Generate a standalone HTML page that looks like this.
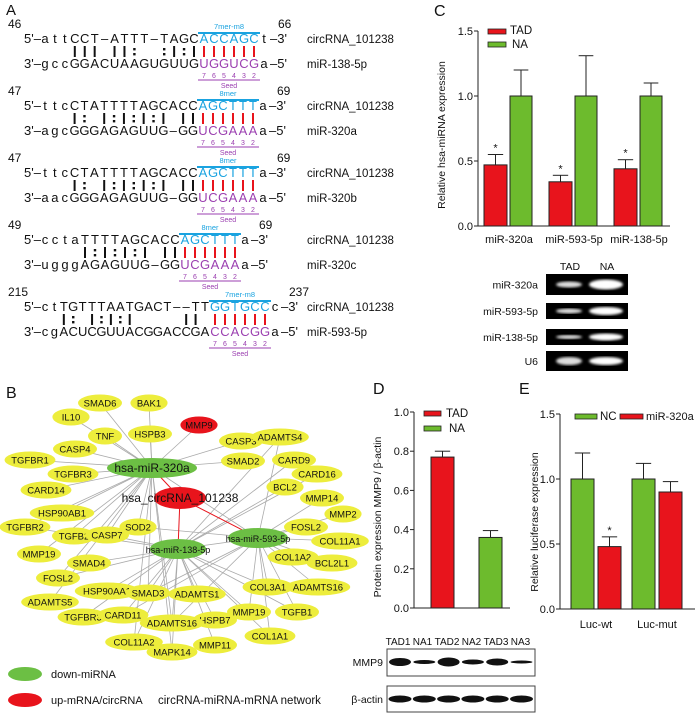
<!DOCTYPE html>
<html><head><meta charset="utf-8"><style>
html,body{margin:0;padding:0;background:#fff}
svg{display:block;font-family:"Liberation Sans",Arial,sans-serif}
</style></head><body>
<svg id="root" width="700" height="717" viewBox="0 0 700 717"></svg>
<script>
// ---------- chart data ----------
const cCats = ['miR-320a','miR-593-5p','miR-138-5p'];
const cTad = [0.47,0.34,0.44];
const cTadErr = [0.08,0.05,0.07];
const cNa = [1.0,1.0,1.0];
const cNaErr = [0.2,0.31,0.1];
const cTicks = [0,0.5,1.0,1.5];
const cTickLabels = ['0.0','0.5','1.0','1.5'];
const dCats = ['TAD','NA'];
const dVals = [0.77,0.36];
const dErr = [0.03,0.035];
const dTicks = [0,0.2,0.4,0.6,0.8,1.0];
const dTickLabels = ['0.0','0.2','0.4','0.6','0.8','1.0'];
const eCats = ['Luc-wt','Luc-mut'];
const eNc = [1.0,1.0];
const eNcErr = [0.2,0.12];
const eMir = [0.48,0.9];
const eMirErr = [0.075,0.08];
const eTicks = [0,0.5,1.0,1.5];
const eTickLabels = ['0.0','0.5','1.0','1.5'];

const NS='http://www.w3.org/2000/svg';
const root=document.getElementById('root');
function mk(tag,attrs,name,parent){
  const el=document.createElementNS(NS,tag);
  for(const k in attrs) el.setAttribute(k,attrs[k]);
  
  
  (parent||root).appendChild(el);
  return el;
}
function txt(x,y,s,name,opt){
  opt=opt||{};
  const t=mk('text',{x:x,y:y,'font-size':opt.size||11,fill:opt.fill||'#111','text-anchor':opt.anchor||'start','font-weight':opt.weight||'normal'},name,opt.parent);
  if(opt.rot) t.setAttribute('transform','rotate(-90 '+x+' '+y+')');
  t.textContent=s;return t;
}
const RED='#e8141c', GREEN='#6dbb2d';

// ---------- panel letters ----------
txt(6,15,'A','panel-label-a',{size:15});
txt(6,398,'B','panel-label-b',{size:16});
txt(434,16,'C','panel-label-c',{size:16});
txt(373,394,'D','panel-label-d',{size:16});
txt(519,394,'E','panel-label-e',{size:16});

// ---------- panel A ----------
const aBlocks=[
 {n1:'46',n2:'66',top:'attCCT-ATTT-TAGC',seedT:'ACCAGC',endT:'t',bot:'gccGGACUAAGUGUUG',seedB:'UGGUCG',endB:'a',marks:'   ||| ||:  :|:|',site:'7mer-m8',mir:'miR-138-5p',seedX:204},
 {n1:'47',n2:'69',top:'ttcCTATTTTAGCACC',seedT:'AGCTTT',endT:'a',bot:'agcGGGAGAGUUG-GG',seedB:'UCGAAA',endB:'a',marks:'   |: |:|:|:| ||',site:'8mer',mir:'miR-320a',seedX:203},
 {n1:'47',n2:'69',top:'ttcCTATTTTAGCACC',seedT:'AGCTTT',endT:'a',bot:'aacGGGAGAGUUG-GG',seedB:'UCGAAA',endB:'a',marks:'   |: |:|:|:| ||',site:'8mer',mir:'miR-320b',seedX:203},
 {n1:'49',n2:'69',top:'cctaTTTTAGCACC',seedT:'AGCTTT',endT:'a',bot:'ugggAGAGUUG-GG',seedB:'UCGAAA',endB:'a',marks:'    |:|:|:| ||',site:'8mer',mir:'miR-320c',seedX:185},
 {n1:'215',n2:'237',top:'ctTGTTTAATGACT--TT',seedT:'GGTGCC',endT:'c',bot:'cgACUCGUUACGGACCGA',seedB:'CCACGG',endB:'a',marks:'  |: |:|:|     ||',site:'7mer-m8',mir:'miR-593-5p',seedX:215}
];
aBlocks.forEach((b,i)=>{
  const y0=43+i*67;
  const g=mk('g',{},'alignment-'+b.mir);
  txt(8,y0-15,b.n1,'start-position',{size:12,parent:g});
  txt(24,y0,"5'–",'five-prime-label',{size:13,parent:g});
  txt(24,y0+25,"3'–",'three-prime-label',{size:13,parent:g});
  const n=b.top.length, sx=b.seedX;
  const pitch=(sx-10-45)/(n-1);
  for(let k=0;k<n;k++){
    const x=45+k*pitch;
    txt(x,y0,b.top[k]==='-'?'–':b.top[k],'circ-base',{size:13,anchor:'middle',parent:g});
    txt(x,y0+25,b.bot[k]==='-'?'–':b.bot[k],'mirna-base',{size:13,anchor:'middle',parent:g});
    const m=b.marks[k];
    if(m==='|') mk('line',{x1:x,x2:x,y1:y0+3,y2:y0+14,stroke:'#111','stroke-width':2},'pair-bond',g);
    else if(m===':'){mk('rect',{x:x-1.2,y:y0+5,width:2.4,height:2.4,fill:'#111'},'wobble-dot',g);mk('rect',{x:x-1.2,y:y0+10,width:2.4,height:2.4,fill:'#111'},'wobble-dot',g);}
  }
  for(let k=0;k<6;k++){
    const x=sx+k*10;
    txt(x,y0,b.seedT[k],'site-base',{size:13,anchor:'middle',fill:'#1aa3e0',parent:g});
    txt(x,y0+25,b.seedB[k],'seed-base',{size:13,anchor:'middle',fill:'#9b3fb0',parent:g});
    mk('line',{x1:x,x2:x,y1:y0+3,y2:y0+14,stroke:RED,'stroke-width':2},'seed-bond',g);
    txt(x,y0+35,String(7-k),'seed-index',{size:7,anchor:'middle',fill:'#9b3fb0',parent:g});
  }
  mk('line',{x1:sx-6,x2:sx+56,y1:y0-10,y2:y0-10,stroke:'#1aa3e0','stroke-width':2},'site-bar',g);
  txt(sx+25,y0-14,b.site,'site-type',{size:7.5,anchor:'middle',fill:'#1aa3e0',parent:g});
  mk('line',{x1:sx-6,x2:sx+56,y1:y0+37,y2:y0+37,stroke:'#9b3fb0','stroke-width':1},'seed-bar',g);
  txt(sx+25,y0+45,'Seed','seed-label',{size:7,anchor:'middle',fill:'#9b3fb0',parent:g});
  txt(sx+60,y0,b.endT,'circ-end',{size:13,anchor:'middle',parent:g});
  txt(sx+66,y0,"–3'",'three-prime-end',{size:13,parent:g});
  txt(sx+60,y0+25,b.endB,'mirna-end',{size:13,anchor:'middle',parent:g});
  txt(sx+66,y0+25,"–5'",'five-prime-end',{size:13,parent:g});
  txt(sx+74,y0-15,b.n2,'end-position',{size:12,parent:g});
  txt(307,y0,'circRNA_101238','circrna-name',{size:11.5,parent:g});
  txt(307,y0+25,b.mir,'mirna-name',{size:11.5,parent:g});
});

// ---------- panel B network ----------
const hubs={h320:[152,468,45,10,'hsa-miR-320a',12],h138:[178,549,28,10,'hsa-miR-138-5p',9],h593:[258,538,30,10,'hsa-miR-593-5p',9]};
const circ=[180,498,26,11];
const nodes=[
['SMAD6',100,403,'h320'],['BAK1',149,403,'h320'],['IL10',71,417,'h320'],['MMP9',199,425,'h320',1],['TNF',105,436,'h320'],
['HSPB3',150,434,'h320'],['CASP3',241,441,'h320'],['ADAMTS4',280,437,'h138'],['CASP4',75,449,'h320'],['TGFBR1',30,460,'h320'],
['SMAD2',243,461,'h320'],['CARD9',294,460,'h138'],['TGFBR3',73,474,'h320'],['CARD16',317,474,'h138'],['CARD14',46,490,'h320'],
['BCL2',285,487,'h138'],['MMP14',322,498,'h593'],['HSP90AB1',62,513,'h320'],['TGFBR2',25,527,'h320'],['MMP2',343,514,'h593'],
['TGFB2',74,536,'h320'],['CASP7',107,535,'h320'],['SOD2',138,527,'h593'],['FOSL2',306,527,'h593'],['COL11A1',340,541,'h593'],
['MMP19',39,554,'h320'],['COL1A2',293,557,'h593'],['BCL2L1',332,563,'h593'],['SMAD4',89,563,'h138'],['FOSL2',58,578,'h320'],
['ADAMTS16',318,587,'h593'],['COL3A1',268,587,'h138'],['HSP90AA1',107,591,'h138'],['SMAD3',148,593,'h138'],['ADAMTS1',197,594,'h138'],
['ADAMTS5',50,602,'h320'],['MMP19',249,612,'h138'],['TGFB1',297,612,'h593'],['TGFBR3',83,617,'h138'],['CARD11',123,615,'h138'],
['HSPB7',215,620,'h138'],['ADAMTS16',172,623,'h138'],['COL1A1',270,636,'h593'],['COL11A2',134,642,'h138'],['MMP11',215,645,'h138'],['MAPK14',172,652,'h138']
];
const net=mk('g',{},'network-graph');
nodes.forEach(nd=>{
  const h=hubs[nd[3]];
  mk('line',{x1:nd[1],y1:nd[2],x2:h[0],y2:h[1],stroke:'#aaa','stroke-width':0.8},'network-edge',net);
  if(!nd[4] && (nd[2]>500||nd[1]>230)){
    const h2=nd[3]==='h138'?hubs.h593:hubs.h138;
    if((nd[1]+nd[2])%3===0) mk('line',{x1:nd[1],y1:nd[2],x2:h2[0],y2:h2[1],stroke:'#aaa','stroke-width':0.8},'network-edge',net);
  }
  if(nd[3]!=='h320' && nd[1]<200 && (nd[1]%2===0)) mk('line',{x1:nd[1],y1:nd[2],x2:hubs.h320[0],y2:hubs.h320[1],stroke:'#aaa','stroke-width':0.8},'network-edge',net);
});
['h320','h138','h593'].forEach(k=>{
  mk('line',{x1:circ[0],y1:circ[1],x2:hubs[k][0],y2:hubs[k][1],stroke:'#e8141c','stroke-width':1},'circ-edge',net);
});
mk('line',{x1:hubs.h320[0],y1:hubs.h320[1],x2:hubs.h593[0],y2:hubs.h593[1],stroke:'#aaa','stroke-width':0.8},'network-edge',net);
mk('line',{x1:hubs.h138[0],y1:hubs.h138[1],x2:hubs.h593[0],y2:hubs.h593[1],stroke:'#aaa','stroke-width':0.8},'network-edge',net);
nodes.forEach(nd=>{
  const w=Math.max(17,nd[0].length*3.4+5);
  mk('ellipse',{cx:nd[1],cy:nd[2],rx:w,ry:8.5,fill:nd[4]?RED:'#eded3c'},'gene-node-'+nd[0].toLowerCase(),net);
  txt(nd[1],nd[2]+3.5,nd[0],'gene-label',{size:9.5,anchor:'middle',parent:net});
});
mk('ellipse',{cx:circ[0],cy:circ[1],rx:circ[2],ry:circ[3],fill:RED},'circrna-node',net);
txt(circ[0],circ[1]+4,'hsa_circRNA_101238','circrna-label',{size:12,anchor:'middle',parent:net});
Object.keys(hubs).forEach(k=>{
  const h=hubs[k];
  mk('ellipse',{cx:h[0],cy:h[1],rx:h[2],ry:h[3],fill:'#6cbf44'},'mirna-node',net);
  txt(h[0],h[1]+4,h[4],'mirna-label',{size:h[5],anchor:'middle',parent:net});
});
mk('ellipse',{cx:25,cy:674,rx:17,ry:7,fill:'#6cbf44'},'legend-down-mirna-swatch');
txt(51,678,'down-miRNA','legend-down-mirna',{size:11});
mk('ellipse',{cx:25,cy:700,rx:17,ry:7,fill:RED},'legend-up-mrna-swatch');
txt(51,704,'up-mRNA/circRNA','legend-up-mrna',{size:11});
txt(158,704,'circRNA-miRNA-mRNA network','network-title',{size:11.5});

// ---------- generic bar helpers ----------
function bar(x,w,v,err,y,color,name,star){
  const g=mk('g',{},name);
  const y0=y(0),y1=y(v),ye=y(v+err),cx=x+w/2;
  mk('line',{x1:cx,x2:cx,y1:y1,y2:ye,stroke:'#222','stroke-width':1},'error-bar',g);
  mk('line',{x1:cx-w/3,x2:cx+w/3,y1:ye,y2:ye,stroke:'#222','stroke-width':1},'error-cap',g);
  mk('rect',{x:x,y:y1,width:w,height:y0-y1,fill:color,stroke:'#222','stroke-width':1},'bar-rect',g);
  if(star) txt(cx,ye-3,'*','significance-star',{size:11,anchor:'middle',parent:g});
}
function axis(x0,x1,y,ticks,labels,name){
  const g=mk('g',{},name);
  mk('line',{x1:x0,x2:x0,y1:y(ticks[ticks.length-1]),y2:y(0),stroke:'#222','stroke-width':1},'y-axis-line',g);
  mk('line',{x1:x0,x2:x1,y1:y(0),y2:y(0),stroke:'#222','stroke-width':1},'x-axis-line',g);
  ticks.forEach((t,i)=>{
    mk('line',{x1:x0-4,x2:x0,y1:y(t),y2:y(t),stroke:'#222','stroke-width':1},'y-tick',g);
    txt(x0-5,y(t)+4,labels[i],'y-tick-label',{size:11,anchor:'end',parent:g});
  });
}

// ---------- panel C ----------
const yC=v=>226-v*130;
axis(478,670,yC,cTicks,cTickLabels,'chart-c-axes');
txt(445,135,'Relative hsa-miRNA  expression','chart-c-y-title',{size:10.5,anchor:'middle',rot:1});
cCats.forEach((c,i)=>{
  const s=478+i*65;
  bar(s+6,23,cTad[i],cTadErr[i],yC,RED,'bar-tad-'+c,true);
  bar(s+32,22,cNa[i],cNaErr[i],yC,GREEN,'bar-na-'+c,false);
  txt(s+31,243,c,'x-tick-label',{size:11,anchor:'middle'});
});
mk('rect',{x:488,y:29,width:18,height:5,fill:RED,stroke:'#222','stroke-width':0.8},'legend-tad-swatch');
txt(510,34,'TAD','legend-tad',{size:11.5});
mk('rect',{x:488,y:42,width:18,height:5,fill:GREEN,stroke:'#222','stroke-width':0.8},'legend-na-swatch');
txt(512,48,'NA','legend-na',{size:11.5});
txt(570,270,'TAD','gel-lane-tad',{size:10.5,anchor:'middle'});
txt(607,270,'NA','gel-lane-na',{size:10.5,anchor:'middle'});
const defs=mk('defs',{},'defs');
const flt=mk('filter',{id:'blur'},'blur-filter',defs);
mk('feGaussianBlur',{stdDeviation:1.3},'blur',flt);
[['miR-320a',274,21,3,5],['miR-593-5p',303,16,2.5,4],['miR-138-5p',329,16,2,3.5],['U6',351,20,4,4]].forEach(r=>{
  const g=mk('g',{},'gel-row-'+r[0]);
  mk('rect',{x:546,y:r[1],width:82,height:r[2],fill:'#000'},'gel-box',g);
  mk('ellipse',{cx:569,cy:r[1]+r[2]/2,rx:13,ry:r[3],fill:'#ddd',filter:'url(#blur)'},'gel-band',g);
  mk('ellipse',{cx:606,cy:r[1]+r[2]/2,rx:17,ry:r[4],fill:'#fff',filter:'url(#blur)'},'gel-band',g);
  txt(538,r[1]+r[2]/2+4,r[0],'gel-row-label',{size:10.5,anchor:'end',parent:g});
});

// ---------- panel D ----------
const yD=v=>608-v*196;
axis(414,510,yD,dTicks,dTickLabels,'chart-d-axes');
txt(381,517,'Protein  expression MMP9 / β-actin','chart-d-y-title',{size:10.5,anchor:'middle',rot:1});
dCats.forEach((c,i)=>{
  bar(431+i*48,23,dVals[i],dErr[i],yD,i===0?RED:GREEN,'bar-'+c.toLowerCase(),false);
});
mk('rect',{x:424,y:411,width:17,height:5,fill:RED,stroke:'#222','stroke-width':0.8},'legend-tad-swatch');
txt(446,417,'TAD','legend-tad',{size:11.5});
mk('rect',{x:424,y:426,width:17,height:5,fill:GREEN,stroke:'#222','stroke-width':0.8},'legend-na-swatch');
txt(449,432,'NA','legend-na',{size:11.5});
const lanes=['TAD1','NA1','TAD2','NA2','TAD3','NA3'];
const mmp=[4,2,4.5,2.5,3.5,1.5];
lanes.forEach((l,i)=>txt(398+i*24.5,645,l,'blot-lane-label',{size:10,anchor:'middle'}));
mk('rect',{x:387,y:649,width:148,height:27,fill:'#fff',stroke:'#444','stroke-width':1},'blot-mmp9-box');
mk('rect',{x:387,y:686,width:148,height:26,fill:'#fff',stroke:'#444','stroke-width':1},'blot-actin-box');
lanes.forEach((l,i)=>{
  mk('ellipse',{cx:400+i*24.3,cy:662,rx:11,ry:mmp[i],fill:'#111'},'mmp9-band',root);
  mk('ellipse',{cx:400+i*24.3,cy:699,rx:11.5,ry:3.5,fill:'#111'},'actin-band',root);
});
txt(383,666,'MMP9','blot-mmp9-label',{size:10.5,anchor:'end'});
txt(383,703,'β-actin','blot-actin-label',{size:10.5,anchor:'end'});

// ---------- panel E ----------
const yE=v=>609-v*130;
axis(560,695,yE,eTicks,eTickLabels,'chart-e-axes');
txt(538,522,'Relative luciferase expression','chart-e-y-title',{size:10.5,anchor:'middle',rot:1});
eCats.forEach((c,i)=>{
  const s=571+i*61;
  bar(s,23,eNc[i],eNcErr[i],yE,GREEN,'bar-nc-'+c,false);
  bar(s+27,23,eMir[i],eMirErr[i],yE,RED,'bar-mir320a-'+c,i===0);
  txt(s+25,628,c,'x-tick-label',{size:11,anchor:'middle'});
});
mk('rect',{x:575,y:414,width:22,height:5,fill:GREEN,stroke:'#222','stroke-width':0.8},'legend-nc-swatch');
txt(600,420,'NC','legend-nc',{size:11.5});
mk('rect',{x:620,y:414,width:23,height:5,fill:RED,stroke:'#222','stroke-width':0.8},'legend-mir320a-swatch');
txt(646,420,'miR-320a','legend-mir320a',{size:11});
</script>
</body></html>
